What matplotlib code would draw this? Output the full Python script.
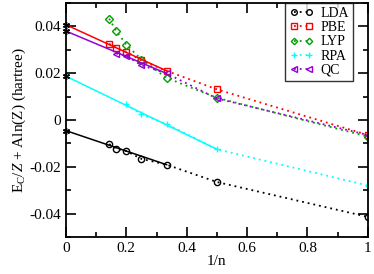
import matplotlib
matplotlib.use('Agg')
import matplotlib.pyplot as plt
from matplotlib.ticker import MultipleLocator

plt.rcParams['font.family'] = ['Liberation Serif', 'DejaVu Serif']
plt.rcParams['mathtext.fontset'] = 'custom'
plt.rcParams['mathtext.rm'] = 'Liberation Serif'
plt.rcParams['mathtext.it'] = 'Liberation Serif:italic'

# data: x = 1/n
x_lda = [1/7, 1/6, 1/5, 1/4, 1/3, 1/2, 1]
y_lda = [-0.0103, -0.0122, -0.0133, -0.0166, -0.0191, -0.0265, -0.0414]
x_pbe = [1/7, 1/6, 1/5, 1/4, 1/3, 1/2, 1]
y_pbe = [0.0326, 0.0308, 0.0291, 0.0255, 0.0210, 0.0131, -0.0064]
x_lyp = [1/7, 1/6, 1/5, 1/4, 1/3, 1/2, 1]
y_lyp = [0.0433, 0.0380, 0.0322, 0.0258, 0.0180, 0.0095, -0.0071]
x_rpa = [1/5, 1/4, 1/3, 1/2, 1]
y_rpa = [0.0067, 0.0024, -0.0017, -0.0125, -0.0280]
x_qc = [1/6, 1/5, 1/4, 1/3, 1/2, 1]
y_qc = [0.0284, 0.0274, 0.0234, 0.0199, 0.0092, -0.0064]

# linear extrapolations to 1/n = 0 (start, end)
fit_lda = ([0, 1/3], [-0.00455, -0.0191])
fit_pbe = ([0, 1/3], [0.0407, 0.0210])
fit_rpa = ([0, 1/2], [0.0187, -0.0125])
fit_qc = ([0, 1/3], [0.0380, 0.0199])

fig = plt.figure(figsize=(3.74, 2.74), dpi=100)
ax = fig.add_axes([0.1765, 0.135, 0.807, 0.854])

series = [
    ('LDA', x_lda, y_lda, 'black', 'o', fit_lda),
    ('PBE', x_pbe, y_pbe, 'red', 's', fit_pbe),
    ('LYP', x_lyp, y_lyp, '#00a000', 'D', None),
    ('RPA', x_rpa, y_rpa, 'cyan', '+', fit_rpa),
    ('QC', x_qc, y_qc, '#9400d3', '<', fit_qc),
]

handles = []
for name, xs, ys, col, mk, fit in series:
    ms = 4.5 if mk != 'D' else 3.6
    h, = ax.plot(xs, ys, linestyle=(0, (1, 2.2)), linewidth=1.3, color=col,
                 marker=mk, markersize=ms, markerfacecolor='none',
                 markeredgecolor=col, markeredgewidth=1.0, label=name)
    handles.append(h)
    if fit is not None:
        ax.plot(fit[0], fit[1], color=col, linewidth=1.1, zorder=3)
        ax.plot(fit[0][:1], fit[1][:1], linestyle='none', marker=(6, 2, 0),
                markersize=5, color='black', markeredgewidth=1.0, zorder=4,
                clip_on=False)

ax.set_xlim(0, 1)
ax.set_ylim(-0.05, 0.05)
ax.xaxis.set_minor_locator(MultipleLocator(0.1))
ax.yaxis.set_minor_locator(MultipleLocator(0.01))
ax.set_xticks([0, 0.2, 0.4, 0.6, 0.8, 1.0])
ax.set_xticklabels(['0', '0.2', '0.4', '0.6', '0.8', '1'])
ax.set_yticks([-0.04, -0.02, 0, 0.02, 0.04])
ax.set_yticklabels(['-0.04', '-0.02', '0', '0.02', '0.04'])
ax.tick_params(which='both', direction='in', top=True, right=True,
               labelsize=11, width=1.2)
ax.tick_params(which='major', length=7)
ax.tick_params(which='minor', length=3.5)
for s in ax.spines.values():
    s.set_linewidth(1.3)

ax.set_xlabel('1/n', fontsize=11, labelpad=0)
ax.set_ylabel(r'E$_\mathrm{C}$/$Z$ + Aln(Z) (hartree)', fontsize=11, labelpad=1)

leg = ax.legend(handles=handles, loc='upper right', bbox_to_anchor=(0.95, 1.0),
                fontsize=10, frameon=True, fancybox=False, borderaxespad=0,
                numpoints=2, handlelength=1.7, handletextpad=0.5,
                labelspacing=0.08, borderpad=0.3, markerscale=0.9)
leg.get_frame().set_edgecolor('black')
leg.get_frame().set_linewidth(1.0)

fig.savefig('out.png', dpi=100)
